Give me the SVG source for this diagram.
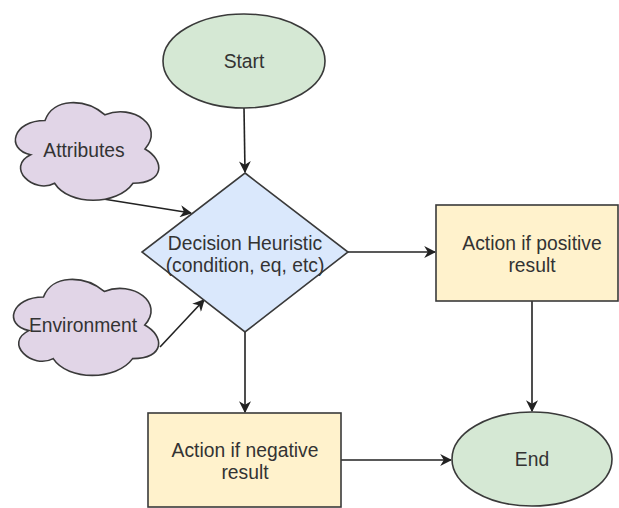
<svg xmlns="http://www.w3.org/2000/svg" width="619" height="508" viewBox="0 0 619 508">
<defs>
<style>
.t{font-family:"Liberation Sans",Arial,sans-serif;font-size:19.3px;fill:#333;text-anchor:middle}
.sh{stroke:#3a3a3a;stroke-width:1.6}
.term{fill:#d5e8d4}
.cloud{fill:#e1d5e7}
.dec{fill:#dae8fc}
.act{fill:#fff2cc}
.edge{fill:none;stroke:#222;stroke-width:1.6}
</style>
<marker id="arr" viewBox="0 0 10 10" refX="9" refY="5" markerWidth="12" markerHeight="12" markerUnits="userSpaceOnUse" orient="auto">
<path d="M0,0 L10,5 L0,10 L3,5 Z" fill="#222"/>
</marker>
</defs>
<rect width="619" height="508" fill="#fff"/>
<g id="connectors">
<line class="edge" x1="244" y1="108" x2="245" y2="172" marker-end="url(#arr)"/>
<line class="edge" x1="97" y1="198" x2="191" y2="213" marker-end="url(#arr)"/>
<line class="edge" x1="160" y1="347" x2="204" y2="300" marker-end="url(#arr)"/>
<line class="edge" x1="348" y1="252" x2="435" y2="252" marker-end="url(#arr)"/>
<line class="edge" x1="245" y1="332" x2="245" y2="412" marker-end="url(#arr)"/>
<line class="edge" x1="532" y1="301" x2="532" y2="411" marker-end="url(#arr)"/>
<line class="edge" x1="341" y1="460" x2="451" y2="460" marker-end="url(#arr)"/>
</g>
<g id="start">
<ellipse class="sh term" cx="244" cy="61" rx="81" ry="47"/>
<text class="t" x="244" y="68">Start</text>
</g>
<g id="attributes">
<path class="sh cloud" d="M45,120.5 C13,120.5 5,149 30.6,154.7 C5,167.2 33.8,194.6 54.6,183.2 C69,206 117,206 133,183.2 C165,183.2 165,160.4 145,149 C165,126.2 133,103.4 105,114.8 C85,97.7 53,97.7 45,120.5 Z"/>
<text class="t" x="84" y="157">Attributes</text>
</g>
<g id="environment">
<path class="sh cloud" d="M43.5,297 C11.1,297 3,325 28.9,330.6 C3,342.9 32.2,369.8 53.2,358.6 C67.8,381 116.4,381 132.6,358.6 C165,358.6 165,336.2 144.75,325 C165,302.6 132.6,280.2 104.25,291.4 C84,274.6 51.6,274.6 43.5,297 Z"/>
<text class="t" x="83" y="332">Environment</text>
</g>
<g id="decision">
<path class="sh dec" d="M245,173 L348,252 L245,332 L142,252 Z"/>
<text class="t" x="245" y="250">Decision Heuristic</text>
<text class="t" x="245" y="272">(condition, eq, etc)</text>
</g>
<g id="positive">
<rect class="sh act" x="436" y="205" width="182" height="96"/>
<text class="t" x="532" y="250">Action if positive</text>
<text class="t" x="532" y="272">result</text>
</g>
<g id="negative">
<rect class="sh act" x="148" y="413" width="193" height="94"/>
<text class="t" x="245" y="457">Action if negative</text>
<text class="t" x="245" y="479">result</text>
</g>
<g id="end">
<ellipse class="sh term" cx="532" cy="459" rx="80" ry="47"/>
<text class="t" x="532" y="466">End</text>
</g>
</svg>
